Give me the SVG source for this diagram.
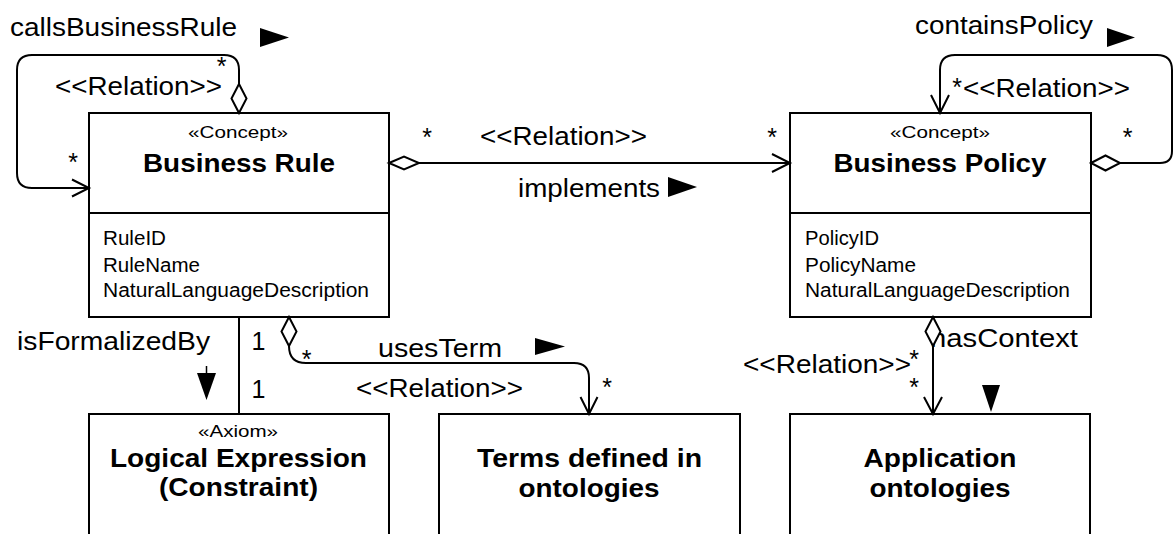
<svg xmlns="http://www.w3.org/2000/svg" width="1173" height="534" viewBox="0 0 1173 534">
<style>
text{font-family:"Liberation Sans",Arial,sans-serif;fill:#000}
.lbl{font-size:25px}
.b{font-weight:bold;font-size:25px}
.st{font-size:17px}
.at{font-size:20px}
.m{font-size:25px;text-anchor:middle}
.c{text-anchor:middle}
.box{fill:#fff;stroke:#000;stroke-width:2}
.ln{fill:none;stroke:#000;stroke-width:2}
.dia{fill:#fff;stroke:#000;stroke-width:2}
.tri{fill:#000}
</style>
<rect width="1173" height="534" fill="#fff"/>
<g id="nodes">
  <g id="business-rule">
    <rect class="box" x="89" y="113" width="300" height="204"/>
    <line class="ln" x1="89" y1="213" x2="389" y2="213"/>
    <text class="st c" x="238" y="138" textLength="100" lengthAdjust="spacingAndGlyphs">«Concept»</text>
    <text class="b c" x="239" y="172" textLength="192" lengthAdjust="spacingAndGlyphs">Business Rule</text>
    <text class="at" x="103" y="245" textLength="63" lengthAdjust="spacingAndGlyphs">RuleID</text>
    <text class="at" x="103" y="272" textLength="97" lengthAdjust="spacingAndGlyphs">RuleName</text>
    <text class="at" x="103" y="297" textLength="266" lengthAdjust="spacingAndGlyphs">NaturalLanguageDescription</text>
  </g>
  <g id="business-policy">
    <rect class="box" x="790" y="113" width="301" height="204"/>
    <line class="ln" x1="790" y1="213" x2="1091" y2="213"/>
    <text class="st c" x="940" y="138" textLength="100" lengthAdjust="spacingAndGlyphs">«Concept»</text>
    <text class="b c" x="940" y="172" textLength="213" lengthAdjust="spacingAndGlyphs">Business Policy</text>
    <text class="at" x="805" y="245" textLength="74" lengthAdjust="spacingAndGlyphs">PolicyID</text>
    <text class="at" x="805" y="272" textLength="111" lengthAdjust="spacingAndGlyphs">PolicyName</text>
    <text class="at" x="805" y="297" textLength="265" lengthAdjust="spacingAndGlyphs">NaturalLanguageDescription</text>
  </g>
  <g id="logical-expression">
    <rect class="box" x="89" y="414" width="300" height="130"/>
    <text class="st c" x="238" y="437" textLength="80" lengthAdjust="spacingAndGlyphs">«Axiom»</text>
    <text class="b c" x="238.5" y="467" textLength="257" lengthAdjust="spacingAndGlyphs">Logical Expression</text>
    <text class="b c" x="238.5" y="496" textLength="159" lengthAdjust="spacingAndGlyphs">(Constraint)</text>
  </g>
  <g id="terms">
    <rect class="box" x="439" y="414" width="301" height="130"/>
    <text class="b c" x="589.5" y="467" textLength="225" lengthAdjust="spacingAndGlyphs">Terms defined in</text>
    <text class="b c" x="589" y="497" textLength="141" lengthAdjust="spacingAndGlyphs">ontologies</text>
  </g>
  <g id="application-ontologies">
    <rect class="box" x="790" y="414" width="300" height="130"/>
    <text class="b c" x="940" y="467" textLength="153" lengthAdjust="spacingAndGlyphs">Application</text>
    <text class="b c" x="940" y="497" textLength="141" lengthAdjust="spacingAndGlyphs">ontologies</text>
  </g>
</g>
<g id="connectors">
  <text class="lbl" x="10" y="36" textLength="227" lengthAdjust="spacingAndGlyphs">callsBusinessRule</text>
  <text class="lbl" x="55" y="95" textLength="167" lengthAdjust="spacingAndGlyphs">&lt;&lt;Relation&gt;&gt;</text>
  <text class="lbl" x="480" y="145" textLength="167" lengthAdjust="spacingAndGlyphs">&lt;&lt;Relation&gt;&gt;</text>
  <text class="lbl" x="518" y="197" textLength="142" lengthAdjust="spacingAndGlyphs">implements</text>
  <text class="lbl" x="915" y="34" textLength="178" lengthAdjust="spacingAndGlyphs">containsPolicy</text>
  <text class="lbl" x="963" y="97" textLength="167" lengthAdjust="spacingAndGlyphs">&lt;&lt;Relation&gt;&gt;</text>
  <text class="lbl" x="17" y="350" textLength="193" lengthAdjust="spacingAndGlyphs">isFormalizedBy</text>
  <text class="lbl" x="378" y="357" textLength="124" lengthAdjust="spacingAndGlyphs">usesTerm</text>
  <text class="lbl" x="356" y="397" textLength="167" lengthAdjust="spacingAndGlyphs">&lt;&lt;Relation&gt;&gt;</text>
  <text class="lbl" x="930" y="347" textLength="148" lengthAdjust="spacingAndGlyphs">hasContext</text>
  <text class="lbl" x="743" y="373" textLength="168" lengthAdjust="spacingAndGlyphs">&lt;&lt;Relation&gt;&gt;</text>
  <text class="m" x="221.5" y="75">*</text>
  <text class="m" x="73" y="171">*</text>
  <text class="m" x="427" y="146">*</text>
  <text class="m" x="772" y="146">*</text>
  <text class="m" x="957" y="96">*</text>
  <text class="m" x="1127.5" y="146">*</text>
  <text class="m" x="306.5" y="368">*</text>
  <text class="m" x="607" y="396">*</text>
  <text class="m" x="914" y="368">*</text>
  <text class="m" x="914" y="396">*</text>
  <text class="m" x="258.5" y="350">1</text>
  <text class="m" x="258.5" y="398">1</text>
  <polygon class="tri" points="260,28 289,37.5 260,47"/>
  <polygon class="tri" points="668,177 697,187 668,197"/>
  <polygon class="tri" points="1107,28 1135,37.5 1107,47"/>
  <polygon class="tri" points="535,338 565,346.5 535,355"/>
  <polygon class="tri" points="197,373 216,373 206.5,400"/>
  <line x1="206.5" y1="366" x2="206.5" y2="374" stroke="#000" stroke-width="1.5"/>
  <polygon class="tri" points="982,385 1000,385 991,412"/>
  <path class="ln" d="M239,84 V70 Q239,55 224,55 H32 Q17,55 17,70 V173 Q17,188 32,188 H89"/>
  <path class="ln" d="M72,179.5 L89,188 L72,196.5"/>
  <polygon class="dia" points="239,113 246.5,98.5 239,84 231.5,98.5"/>
  <path class="ln" d="M419,163 H790"/>
  <path class="ln" d="M772,154 L790,163 L772,172"/>
  <polygon class="dia" points="389,163 404,156.5 419,163 404,169.5"/>
  <path class="ln" d="M1120,163 H1160 Q1172,163 1172,151 V70 Q1172,55 1157,55 H955 Q940,55 940,70 V113"/>
  <path class="ln" d="M931,95 L940,113 L949,95"/>
  <polygon class="dia" points="1091,163 1105.5,155.5 1120,163 1105.5,170.5"/>
  <path class="ln" d="M239,317 V414"/>
  <path class="ln" d="M289,346 Q289,363 306,363 H574 Q589,363 589,378 V414"/>
  <path class="ln" d="M580.5,397 L589,414 L597.5,397"/>
  <polygon class="dia" points="289,317 296.5,331.5 289,346 281.5,331.5"/>
  <path class="ln" d="M933,346 V414"/>
  <path class="ln" d="M924,397 L933,414 L942,397"/>
  <polygon class="dia" points="933,317 940.5,331.5 933,346 925.5,331.5"/>
</g>
</svg>
